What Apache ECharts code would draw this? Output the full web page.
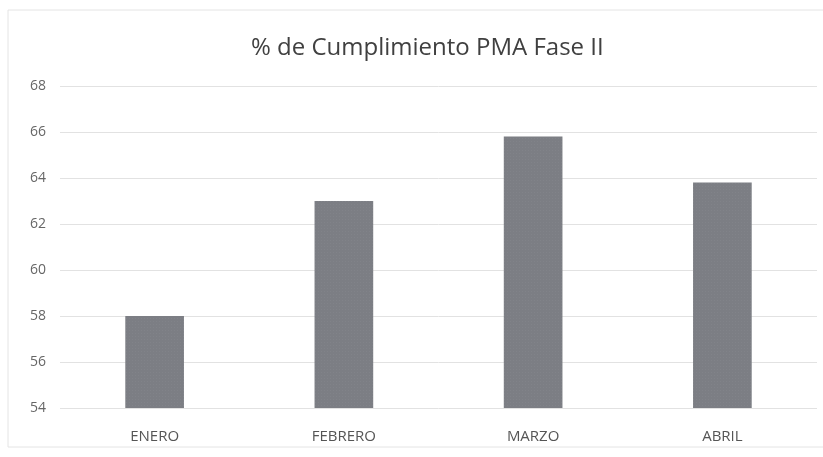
<!DOCTYPE html>
<html>
<head>
<meta charset="utf-8">
<script src="https://cdn.jsdelivr.net/npm/echarts@6/dist/echarts.min.js"></script>
<style>html,body{margin:0;padding:0;background:#fff}#c{width:823px;height:457px}</style>
</head>
<body>
<div id="c"></div>
<script>
var categories = ['ENERO', 'FEBRERO', 'MARZO', 'ABRIL'];
var values = [58.0, 63.0, 65.8, 63.8];
var yMin = 54, yMax = 68, yStep = 2;

var chart = echarts.init(document.getElementById('c'));
chart.setOption({
  backgroundColor: '#ffffff',
  animation: false,
  title: {
    text: '% de Cumplimiento PMA Fase II',
    left: 246,
    top: 31,
    textStyle: { fontFamily: 'Open Sans', fontSize: 24, fontWeight: 'normal', color: '#404040' }
  },
  graphic: [{
    type: 'rect',
    shape: { x: 8, y: 10, width: 830, height: 437 },
    style: { fill: 'none', stroke: '#e4e4e4', lineWidth: 1 },
    silent: true
  }],
  grid: { left: 60, right: 6, top: 86, height: 322 },
  xAxis: {
    type: 'category',
    data: categories,
    axisLine: { show: false },
    axisTick: { show: false },
    axisLabel: { fontFamily: 'Open Sans', fontSize: 15, color: '#555', margin: 21 }
  },
  yAxis: {
    type: 'value',
    min: yMin, max: yMax, interval: yStep,
    axisLine: { show: false },
    axisTick: { show: false },
    splitLine: { lineStyle: { color: '#e2e2e2', width: 1 } },
    axisLabel: { fontFamily: 'Open Sans', fontSize: 14, color: '#666', margin: 14 }
  },
  series: [{
    type: 'bar',
    data: values,
    barWidth: '31%',
    itemStyle: {
      color: '#7c7e84',
      decal: { symbol: 'rect', symbolSize: 0.5, color: 'rgba(255,255,255,0.18)', dashArrayX: [1, 2], dashArrayY: [1, 2], rotation: 0 }
    }
  }]
});
</script>
</body>
</html>
